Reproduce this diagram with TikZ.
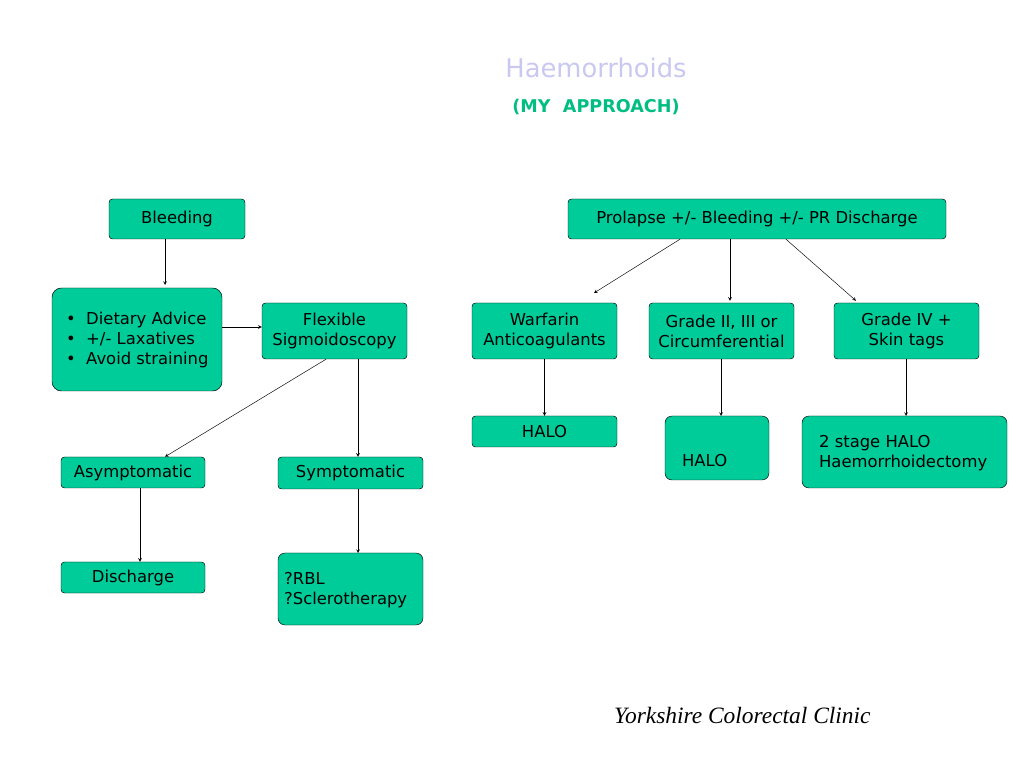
\documentclass[tikz,border=0pt]{standalone}
\usepackage{fontspec}
\setmainfont{DejaVu Sans}
\newfontfamily\clinicfont{Liberation Serif}
\usetikzlibrary{calc}
\definecolor{boxgreen}{RGB}{0,204,153}
\definecolor{titlelav}{RGB}{200,200,240}
\definecolor{titlegreen}{RGB}{0,190,130}
\tikzset{
  box/.style={draw=black,fill=boxgreen,rounded corners=3pt,align=center,inner sep=0pt},
  txt/.style={font=\fontsize{14}{17}\selectfont},
  arr/.style={->,>=stealth}
}
\begin{document}
\begin{tikzpicture}[x=0.03cm,y=-0.03cm]
\useasboundingbox (0,0) rectangle (1024,768);
% titles
\node[text=titlelav,font=\fontsize{22}{26}\selectfont] (title) at (596,68) {Haemorrhoids};
\node[text=titlegreen,font=\fontsize{15}{18}\selectfont\bfseries] (sub) at (596,107) {(MY\ \ APPROACH)};
% left branch
\node[box,txt,minimum width=136*0.03cm,minimum height=40*0.03cm] (bleed) at (177,219) {Bleeding};
\draw[box,rounded corners=8pt] (52,288) rectangle (222,391);
\coordinate (diet) at (137,339);
\node[txt,anchor=west,align=left] (diettxt) at (62,340) {\textbullet\ \ Dietary Advice\\\textbullet\ \ +/- Laxatives\\\textbullet\ \ Avoid straining};
\node[box,txt,minimum width=145*0.03cm,minimum height=56*0.03cm] (flex) at (334.5,331) {Flexible\\Sigmoidoscopy};
\node[box,txt,minimum width=144*0.03cm,minimum height=31*0.03cm] (asym) at (133,472.5) {Asymptomatic};
\node[box,txt,minimum width=145*0.03cm,minimum height=32*0.03cm] (sym) at (350.5,473) {Symptomatic};
\node[box,txt,minimum width=144*0.03cm,minimum height=31*0.03cm] (disch) at (133,577.5) {Discharge};
\draw[box,rounded corners=6pt] (278,553) rectangle (423,625);
\coordinate (rbl) at (350.5,553);
\node[txt,anchor=west,align=left] (rbltxt) at (280,590) {?RBL\\?Sclerotherapy};
% right branch
\node[box,txt,minimum width=378*0.03cm,minimum height=40*0.03cm] (prol) at (757,219) {Prolapse +/- Bleeding +/- PR Discharge};
\node[box,txt,minimum width=145*0.03cm,minimum height=56*0.03cm] (warf) at (544.5,331) {Warfarin\\Anticoagulants};
\node[box,txt,minimum width=145*0.03cm,minimum height=56*0.03cm] (grade) at (721.5,331) {Grade II, III or\\Circumferential};
\node[box,txt,minimum width=145*0.03cm,minimum height=56*0.03cm] (gfour) at (906.5,331) {Grade IV +\\Skin tags};
\node[box,txt,minimum width=145*0.03cm,minimum height=31*0.03cm] (haloa) at (544.5,431.5) {HALO};
\draw[box,rounded corners=6pt] (665,416) rectangle (769,480);
\coordinate (halob) at (721,416);
\node[txt,anchor=west] (halobtxt) at (678,461) {HALO};
\draw[box,rounded corners=6pt] (802,416) rectangle (1007,488);
\coordinate (haloc) at (906,416);
\node[txt,anchor=west,align=left] (halotxt) at (815,453) {2 stage HALO\\Haemorrhoidectomy};
% connectors
\draw[arr] (bleed.south -| 165,0) -- (165,285);
\draw[arr] (222,327) -- (flex.west |- 0,327);
\draw[arr] ($(flex.south)+(-8.5,0)$) -- ($(asym.north)+(32,0)$);
\draw[arr] ($(flex.south)+(23.5,0)$) -- ($(sym.north)+(7.5,0)$);
\draw[arr] ($(asym.south)+(7,0)$) -- ($(disch.north)+(7,0)$);
\draw[arr] ($(sym.south)+(7.5,0)$) -- ($(rbl)+(7.5,0)$);
\draw[arr] ($(prol.south)+(-77,0)$) -- (594,293);
\draw[arr] ($(prol.south)+(-27,0)$) -- ($(grade.north)+(8.5,-2)$);
\draw[arr] ($(prol.south)+(29,0)$) -- ($(gfour.north)+(-50.5,-2)$);
\draw[arr] (warf.south) -- (haloa.north);
\draw[arr] ($(grade.south)+(-0.5,0)$) -- (halob);
\draw[arr] ($(gfour.south)+(-0.5,0)$) -- (haloc);
% footer
\node[font=\clinicfont\itshape\fontsize{20}{24}\selectfont,anchor=west] (clinic) at (610,715) {Yorkshire Colorectal Clinic};
\end{tikzpicture}
\end{document}
